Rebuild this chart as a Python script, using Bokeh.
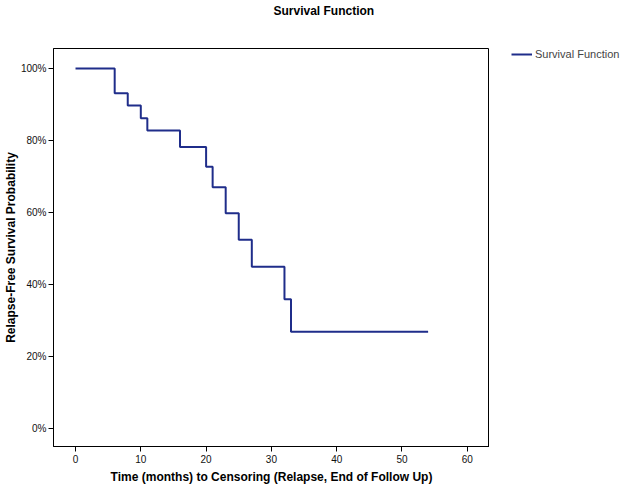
from bokeh.plotting import figure
from bokeh.layouts import row
from bokeh.models import Range1d, FixedTicker, NumeralTickFormatter, Legend, Title
from bokeh.embed import file_html
from bokeh.resources import INLINE

# Kaplan-Meier step data
times = [0, 6, 8, 10, 11, 16, 20, 21, 23, 25, 27, 32, 33, 54]
survival = [1.0, 0.931, 0.897, 0.862, 0.828, 0.782, 0.727, 0.670, 0.598, 0.524, 0.449, 0.359, 0.269, 0.269]
x_ticks = [0, 10, 20, 30, 40, 50, 60]
y_ticks = [0.0, 0.2, 0.4, 0.6, 0.8, 1.0]
title_text = "Survival Function"
series_name = "Survival Function"

FONT = "Liberation Sans"
LINE_COLOR = "#1f2d8a"

# --- main plot ---
p = figure(width=489, height=489, output_backend="svg", toolbar_location=None,
           x_range=Range1d(-3.37, 63.4), y_range=Range1d(-0.05, 1.0556),
           min_border_left=52, min_border_right=0, min_border_top=48, min_border_bottom=43)

# spacer title (closest to the frame) then the real title above it
p.add_layout(Title(text=" ", standoff=15, text_font=FONT, text_font_size="12px"), "above")
p.add_layout(Title(text=title_text, align="left", offset=220, standoff=0,
                   text_font=FONT, text_font_size="12px", text_font_style="bold",
                   text_color="#000000"), "above")

p.outline_line_color = "#000000"
p.outline_line_width = 1
p.outline_line_alpha = 1
p.xgrid.visible = False
p.ygrid.visible = False

for ax in (p.xaxis[0], p.yaxis[0]):
    ax.axis_line_color = "#000000"
    ax.major_tick_line_color = "#000000"
    ax.major_tick_out = 5
    ax.major_tick_in = 0
    ax.minor_tick_line_color = None
    ax.major_label_text_font = FONT
    ax.major_label_text_font_size = "10px"
    ax.major_label_text_color = "#111111"
    ax.axis_label_text_font = FONT
    ax.axis_label_text_font_size = "12px"
    ax.axis_label_text_font_style = "bold"
    ax.axis_label_text_color = "#000000"
    ax.major_label_standoff = 3

p.xaxis[0].ticker = FixedTicker(ticks=x_ticks)
p.yaxis[0].ticker = FixedTicker(ticks=y_ticks)
p.yaxis[0].formatter = NumeralTickFormatter(format="0%")
p.xaxis[0].axis_label = "Time (months) to Censoring (Relapse, End of Follow Up)"
p.yaxis[0].axis_label = "Relapse-Free Survival Probability"
p.xaxis[0].axis_label_standoff = 4
p.yaxis[0].axis_label_standoff = 0
p.yaxis[0].major_label_standoff = 2

p.step(times, survival, mode="after", line_color=LINE_COLOR, line_width=2)

# --- legend strip (its frame is aligned with the main frame: page y 48..446) ---
pl = figure(width=136, height=489, output_backend="svg", toolbar_location=None,
            x_axis_type=None, y_axis_type=None, min_border=0,
            x_range=Range1d(-1000, -999), y_range=Range1d(-1000, -999))
pl.outline_line_color = None
pl.grid.visible = False
rl = pl.step(times, survival, mode="after", line_color=LINE_COLOR, line_width=2)
legend = Legend(items=[(series_name, [rl])], location=(22, 386),
                border_line_alpha=0, background_fill_alpha=0, padding=0, margin=0,
                spacing=0, label_text_font=FONT, label_text_font_size="11px",
                label_standoff=3, glyph_width=21, glyph_height=10, label_height=10)
pl.add_layout(legend)

layout = row(p, pl, spacing=0)

open("out.html", "w").write(file_html(layout, INLINE))
